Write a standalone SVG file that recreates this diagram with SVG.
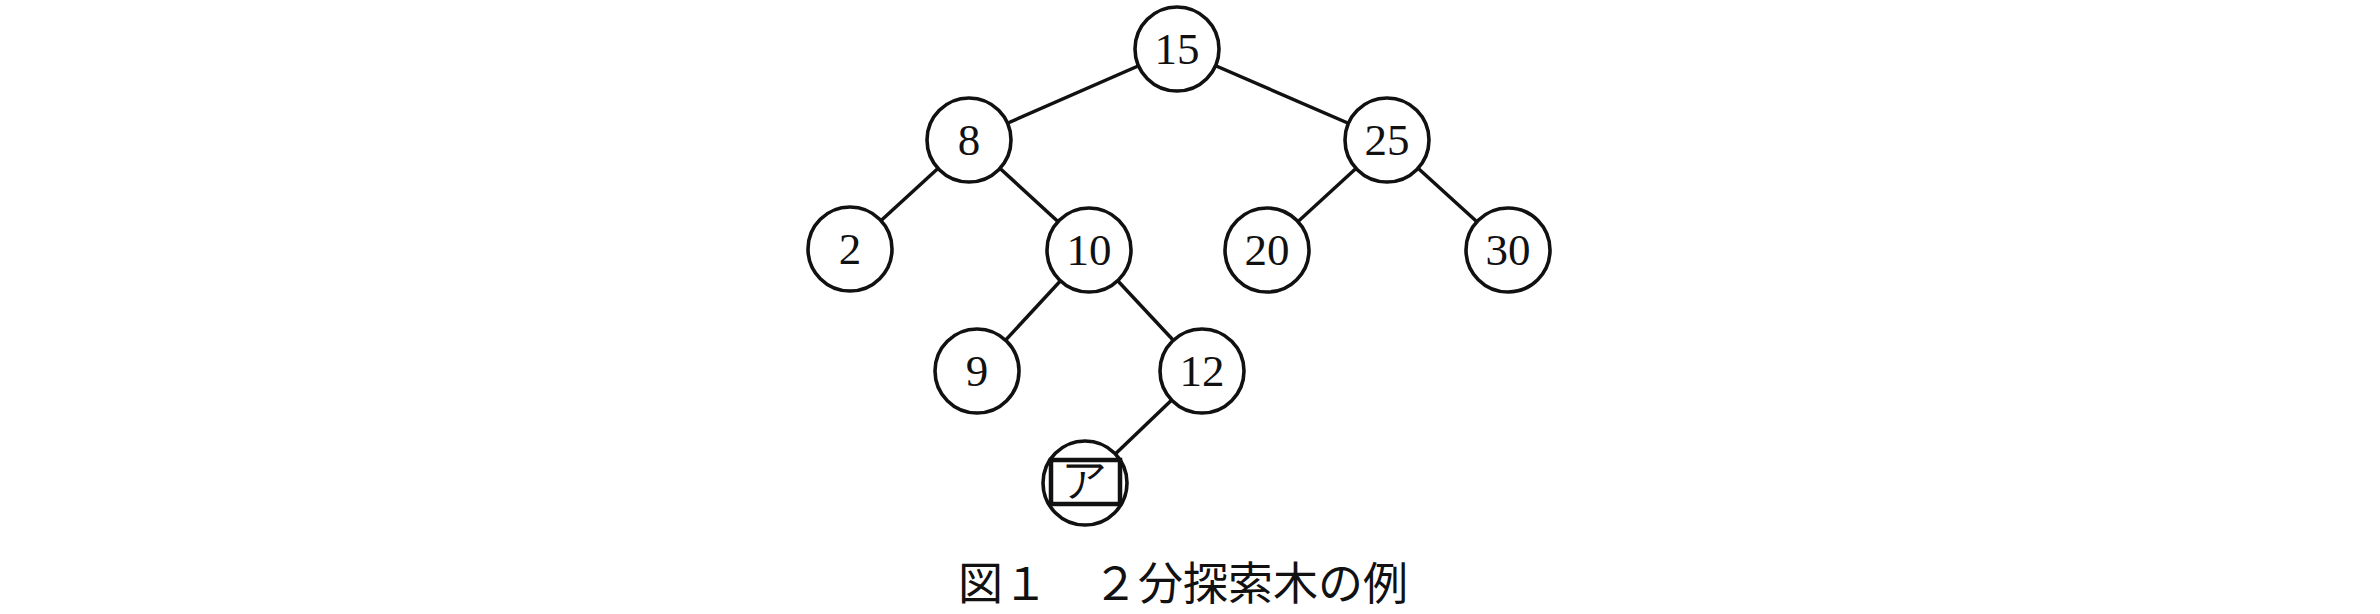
<svg xmlns="http://www.w3.org/2000/svg" width="2380" height="614" viewBox="0 0 2380 614">
<style>
.edge{stroke:#111;stroke-width:3.5;fill:none}
.node circle{fill:#fff;stroke:#111;stroke-width:3.6}
.node text{font-family:"Liberation Serif","DejaVu Serif",serif;font-size:45px;fill:#111;text-anchor:middle}
.box{fill:#fff;stroke:#111;stroke-width:4.5}
.kana{font-family:"Noto Sans CJK JP",sans-serif;font-size:34px;fill:#111;text-anchor:middle}
.cap{font-family:"Noto Sans CJK JP",sans-serif;font-size:45px;fill:#111}
</style>
<rect width="2380" height="614" fill="#fff"/>
<g id="connectors">
<line class="edge" x1="1177" y1="49" x2="969" y2="140"/>
<line class="edge" x1="1177" y1="49" x2="1387" y2="140"/>
<line class="edge" x1="969" y1="140" x2="850" y2="249"/>
<line class="edge" x1="969" y1="140" x2="1089" y2="250"/>
<line class="edge" x1="1387" y1="140" x2="1267" y2="250"/>
<line class="edge" x1="1387" y1="140" x2="1508" y2="250"/>
<line class="edge" x1="1089" y1="250" x2="977" y2="371"/>
<line class="edge" x1="1089" y1="250" x2="1202" y2="371"/>
<line class="edge" x1="1202" y1="371" x2="1085" y2="483"/>
</g>
<g id="n15" class="node"><circle cx="1177" cy="49" r="42"/><text x="1177" y="64">15</text></g>
<g id="n8" class="node"><circle cx="969" cy="140" r="42"/><text x="969" y="155">8</text></g>
<g id="n25" class="node"><circle cx="1387" cy="140" r="42"/><text x="1387" y="155">25</text></g>
<g id="n2" class="node"><circle cx="850" cy="249" r="42"/><text x="850" y="264">2</text></g>
<g id="n10" class="node"><circle cx="1089" cy="250" r="42"/><text x="1089" y="265">10</text></g>
<g id="n20" class="node"><circle cx="1267" cy="250" r="42"/><text x="1267" y="265">20</text></g>
<g id="n30" class="node"><circle cx="1508" cy="250" r="42"/><text x="1508" y="265">30</text></g>
<g id="n9" class="node"><circle cx="977" cy="371" r="42"/><text x="977" y="386">9</text></g>
<g id="n12" class="node"><circle cx="1202" cy="371" r="42"/><text x="1202" y="386">12</text></g>
<g id="nA" class="node"><circle cx="1085" cy="483" r="42"/><rect class="box" x="1051" y="460" width="69" height="44"/><text class="kana" x="1085" y="495">ア</text></g>
<g id="caption"><text class="cap" x="958" y="600">図１　２分探索木の例</text></g>
</svg>
